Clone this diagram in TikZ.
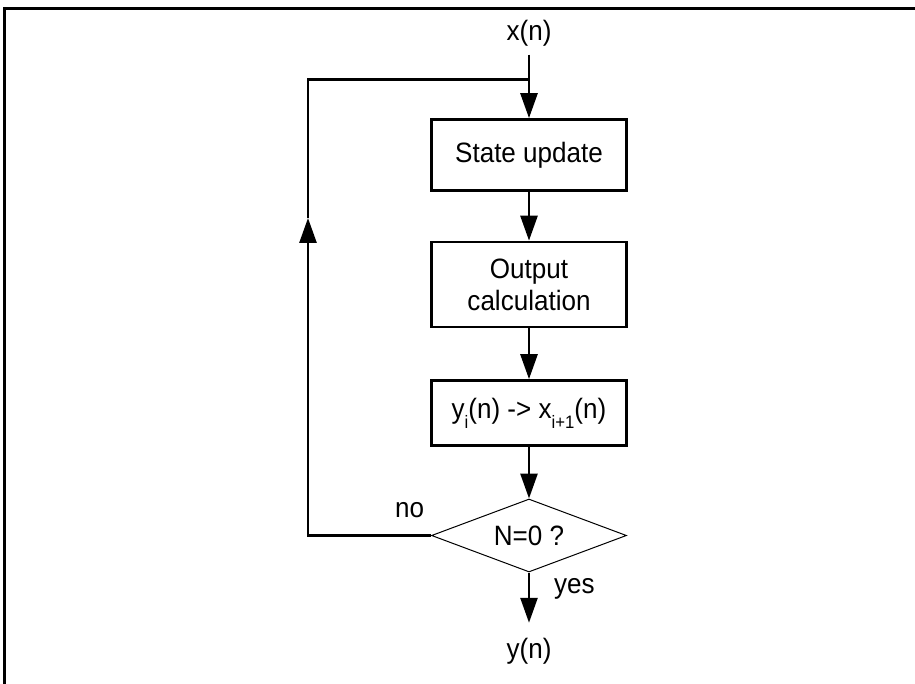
\documentclass[tikz,border=0pt]{standalone}
\usepackage{fontspec}
\setmainfont{Liberation Sans}[FakeStretch=0.93]
\usepackage{tikz}
\usetikzlibrary{shapes.geometric,arrows.meta}

\newcommand{\lowsub}[1]{\raisebox{-10pt}{\fontsize{18}{18}\selectfont #1}}

\begin{document}
\begin{tikzpicture}[
  x=1pt, y=-1pt,
  font=\fontsize{28}{32}\selectfont,
  stepbox/.style={rectangle, draw, line width=2.7pt, minimum width=195pt, align=center, inner sep=0pt},
  decision/.style={diamond, draw, line width=1pt, aspect=2.67, minimum width=195pt, minimum height=73pt, inner sep=0pt},
  signal/.style={inner sep=0pt},
  wire/.style={line width=2.7pt},
  arrow/.style={wire, -{Triangle[length=25pt, width=17pt]}} % filled heads as in the sketch
]
  \useasboundingbox (0,0) rectangle (915,684);
  \draw[line width=2.8pt] (4.7,684) |- (915,8.3);

  \node (xin) [signal] at (529,33.5) {x(n)};
  \node (state) [stepbox, minimum height=71pt] at (529,155) {State update};
  \node (output) [stepbox, minimum height=85pt] at (529,284.5) {Output\\calculation};
  \node (swap) [stepbox, minimum height=65pt] at (529,413) {y\lowsub{i}(n) -> x\lowsub{i+1}(n)};
  \node (check) [decision] at (529,535.5) {N=0 ?};
  \node (yout) [signal] at (529,651) {y(n)};
  \node (nolabel) [signal, anchor=base west] at (395,517) {no};
  \node (yeslabel) [signal, anchor=base west] at (554,593) {yes};

  \coordinate (join) at (529,79.3);
  \coordinate (backtip) at (308,218);

  \draw [arrow, shorten <=8pt] (xin.south) -- (state.north);
  \draw [arrow] (state) -- (output);
  \draw [arrow] (output) -- (swap);
  \draw [arrow] (swap) -- (check);
  \draw [arrow, shorten >=15pt] (check) -- (yout);
  \draw [arrow] (check.west) -| (backtip);
  \draw [wire] (backtip) |- (join);
\end{tikzpicture}
\end{document}
